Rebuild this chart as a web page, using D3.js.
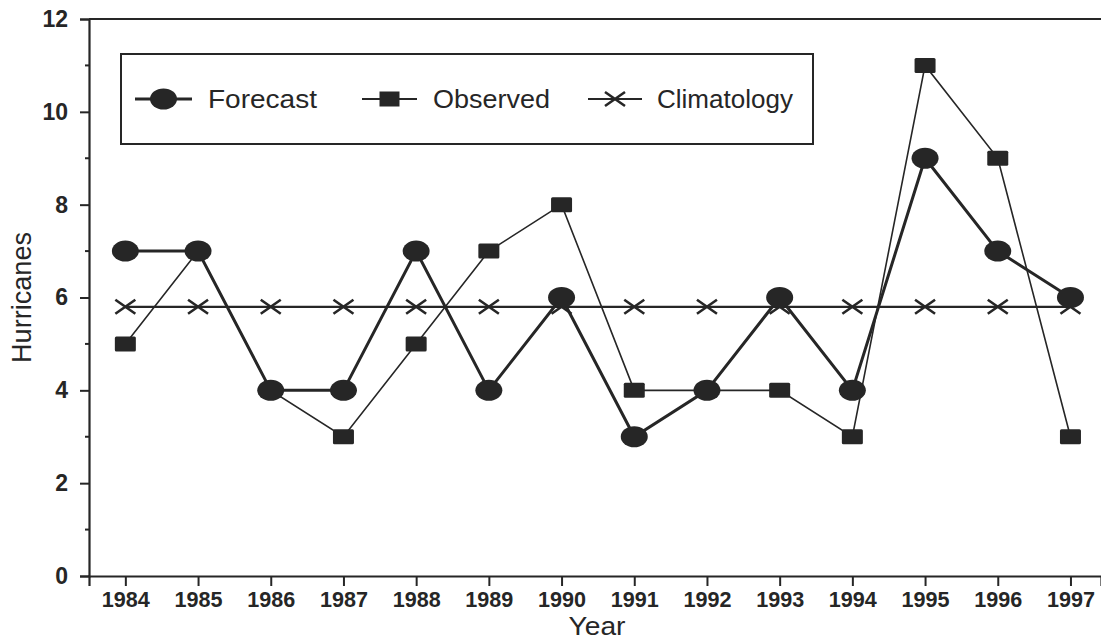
<!DOCTYPE html>
<html><head><meta charset="utf-8">
<script src="https://cdn.jsdelivr.net/npm/d3@7"></script>
<style>body{margin:0;background:#fff}svg{display:block}</style>
</head><body>
<script>
const years = [1984,1985,1986,1987,1988,1989,1990,1991,1992,1993,1994,1995,1996,1997];
const forecast = [7,7,4,4,7,4,6,3,4,6,4,9,7,6];
const observed = [5,7,4,3,5,7,8,4,4,4,3,11,9,3];
const climatology = [5.8,5.8,5.8,5.8,5.8,5.8,5.8,5.8,5.8,5.8,5.8,5.8,5.8,5.8];
const yTicks = [0,2,4,6,8,10,12];
const yMinor = [1,3,5,7,9,11];
const legendLabels = ["Forecast","Observed","Climatology"];

const W=1101,H=639, L=89, R=1101, T=19, B=576;
const ink="#262626";
const FF="Liberation Sans, Arial, sans-serif";
const svg=d3.select("body").append("svg").attr("width",W).attr("height",H);
const x=d3.scaleLinear().domain([1983.5,1997.42]).range([L,R]);
const y=d3.scaleLinear().domain([0,12]).range([B,T]);

svg.append("line").attr("x1",L).attr("x2",R).attr("y1",y(12)).attr("y2",y(12)).attr("stroke",ink).attr("stroke-width",2);

const yAx=svg.append("g").attr("transform",`translate(${L},0)`)
  .call(d3.axisLeft(y).tickValues(yTicks).tickSize(9).tickPadding(12).tickFormat(d3.format("d")));
yAx.select(".domain").attr("stroke",ink).attr("stroke-width",2.2);
yAx.selectAll(".tick line").attr("stroke",ink).attr("stroke-width",2);
yAx.selectAll("text").attr("font-family",FF).attr("font-weight","bold").attr("font-size",23).attr("fill",ink);
svg.append("g").selectAll("line").data(yMinor).join("line")
  .attr("x1",L-4).attr("x2",L).attr("y1",d=>y(d)).attr("y2",d=>y(d)).attr("stroke",ink).attr("stroke-width",2);

const xAx=svg.append("g").attr("transform",`translate(0,${B})`)
  .call(d3.axisBottom(x).tickValues(years).tickSize(10).tickPadding(5).tickFormat(d3.format("d")));
xAx.select(".domain").attr("stroke",ink).attr("stroke-width",2.2);
xAx.selectAll(".tick line").attr("stroke",ink).attr("stroke-width",2);
xAx.selectAll("text").attr("font-family",FF).attr("font-weight","bold").attr("font-size",22).attr("fill",ink)
  .attr("textLength",48).attr("lengthAdjust","spacingAndGlyphs");

svg.append("text").attr("x",597).attr("y",635).attr("text-anchor","middle")
  .attr("font-family",FF).attr("font-size",25).attr("fill",ink)
  .attr("textLength",57).attr("lengthAdjust","spacingAndGlyphs").text("Year");
svg.append("text").attr("transform",`translate(31,${y(6)}) rotate(-90)`).attr("text-anchor","middle")
  .attr("font-family",FF).attr("font-size",27).attr("fill",ink)
  .attr("textLength",131).attr("lengthAdjust","spacingAndGlyphs").text("Hurricanes");

const line=d3.line().x((d,i)=>x(years[i])).y(d=>y(d));

const xMark=(g,cx,cy,sx,sy)=>{g.append("path").attr("d",`M${cx-sx},${cy-sy}L${cx+sx},${cy+sy}M${cx-sx},${cy+sy}L${cx+sx},${cy-sy}`).attr("stroke",ink).attr("stroke-width",2.6).attr("fill","none");};

// climatology
svg.append("path").datum(climatology).attr("d",line).attr("fill","none").attr("stroke",ink).attr("stroke-width",2.2);
climatology.forEach((v,i)=>xMark(svg,x(years[i]),y(v),10,7));

// observed
svg.append("path").datum(observed).attr("d",line).attr("fill","none").attr("stroke",ink).attr("stroke-width",1.6);
svg.append("g").selectAll("rect").data(observed).join("rect")
  .attr("x",(d,i)=>x(years[i])-10.5).attr("y",d=>y(d)-7.5).attr("width",21).attr("height",15).attr("rx",1.5).attr("fill",ink);

// forecast
svg.append("path").datum(forecast).attr("d",line).attr("fill","none").attr("stroke",ink).attr("stroke-width",3);
svg.append("g").selectAll("ellipse").data(forecast).join("ellipse")
  .attr("cx",(d,i)=>x(years[i])).attr("cy",d=>y(d)).attr("rx",13.5).attr("ry",10.5).attr("fill",ink);

// legend
const lg=svg.append("g");
lg.append("rect").attr("x",121).attr("y",54).attr("width",692).attr("height",90).attr("fill","#fff").attr("stroke",ink).attr("stroke-width",2);
const ly=99;
const items=[{x1:135,x2:192,t:208,w:109},{x1:362,x2:417,t:433,w:117},{x1:588,x2:642,t:657,w:136}];
items.forEach((it,k)=>{
  lg.append("line").attr("x1",it.x1).attr("x2",it.x2).attr("y1",ly).attr("y2",ly).attr("stroke",ink).attr("stroke-width",k===0?3:2);
  const cx=(it.x1+it.x2)/2;
  if(k===0) lg.append("ellipse").attr("cx",cx).attr("cy",ly).attr("rx",13.5).attr("ry",10.5).attr("fill",ink);
  if(k===1) lg.append("rect").attr("x",cx-10).attr("y",ly-7.5).attr("width",20).attr("height",15).attr("fill",ink);
  if(k===2) xMark(lg,cx,ly,10,7);
  lg.append("text").attr("x",it.t).attr("y",ly+9).attr("font-family",FF).attr("font-size",25).attr("fill",ink)
    .attr("textLength",it.w).attr("lengthAdjust","spacingAndGlyphs").text(legendLabels[k]);
});
</script>
</body></html>
